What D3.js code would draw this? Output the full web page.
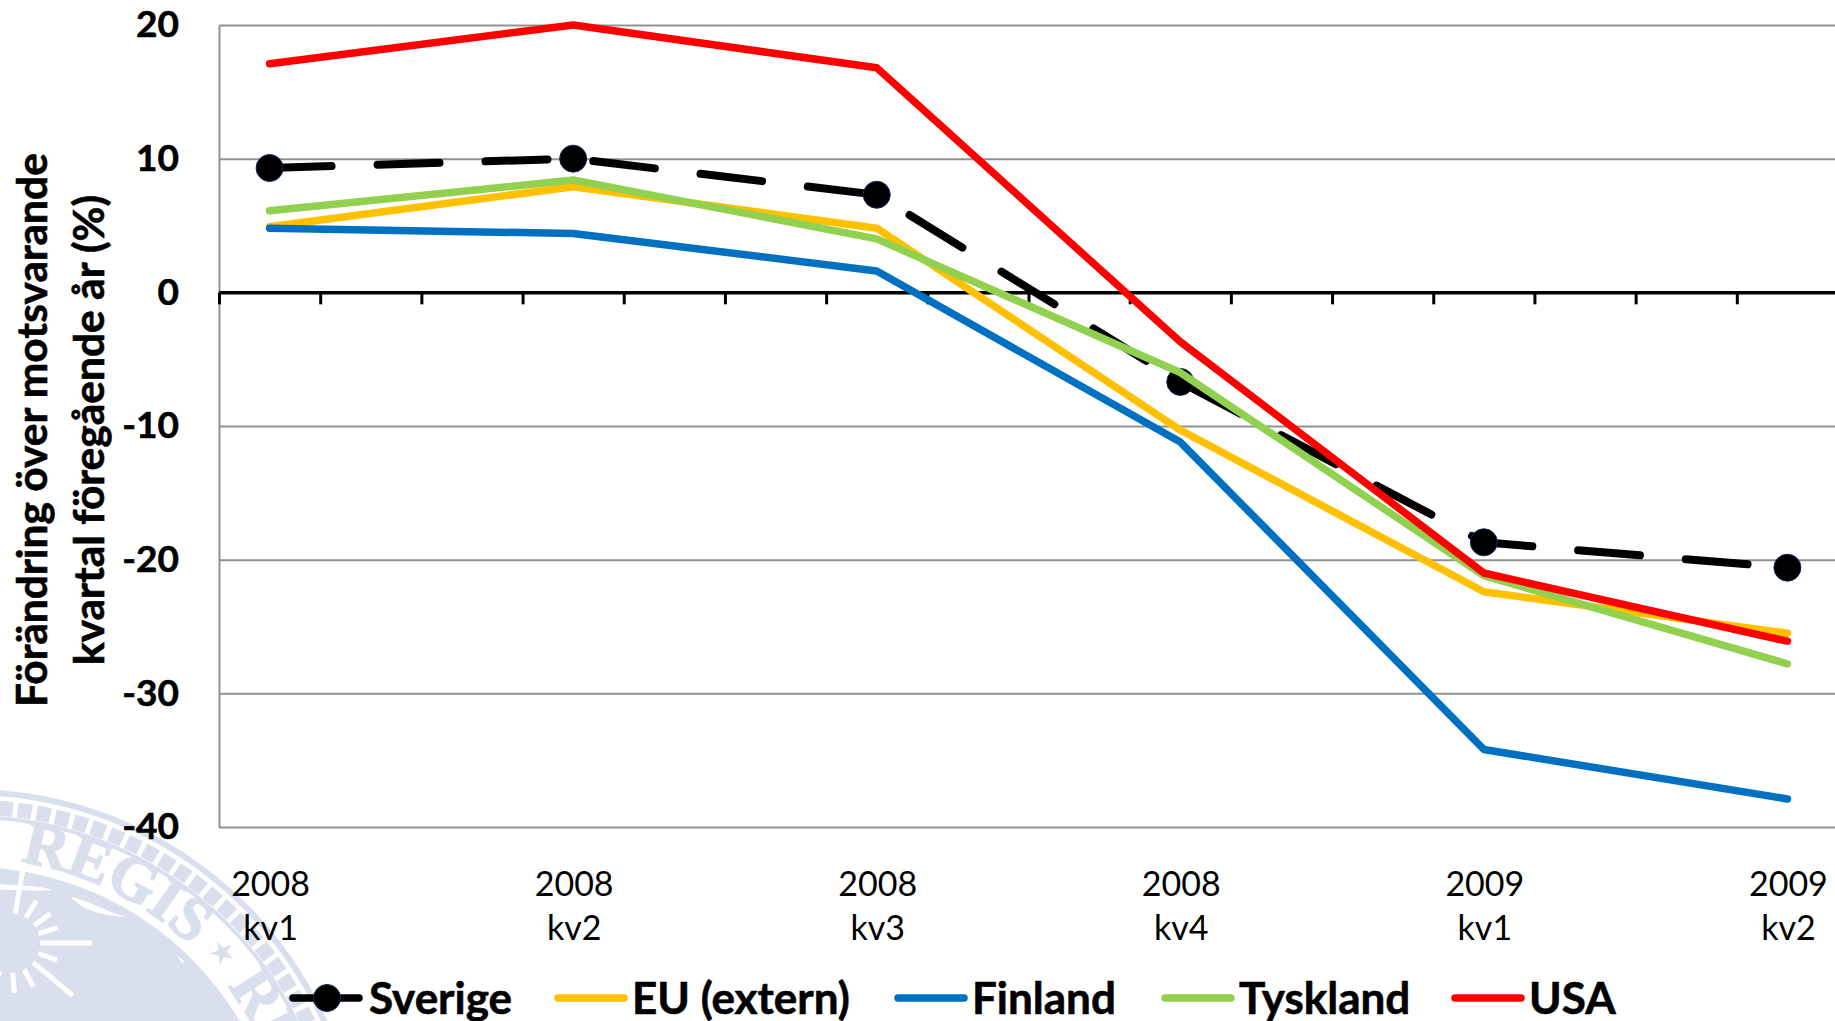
<!DOCTYPE html>
<html>
<head>
<meta charset="utf-8">
<script src="https://cdnjs.cloudflare.com/ajax/libs/d3/7.8.5/d3.min.js"></script>
<style>
    html, body { margin: 0; padding: 0; background: #fff; overflow: hidden; }
    text { font-family: Lato, "Open Sans", sans-serif; fill: #000; }
    .heavy { font-weight: bold; stroke: #000; stroke-width: 0.6px; }
</style>
</head>
<body>
<svg id="chart"></svg>
<script>
// x axis runs in months, one point every third month
const months = d3.range(17);
const quarterSlots = [0, 3, 6, 9, 12, 15];
const years = ["2008", "2008", "2008", "2008", "2009", "2009"];
const quarters = ["kv1", "kv2", "kv3", "kv4", "kv1", "kv2"];
const yTicks = [20, 10, 0, -10, -20, -30, -40];

const seriesNames = ["Sverige", "EU (extern)", "Finland", "Tyskland", "USA"];
const sverige = [9.3, 10.0, 7.3, -6.7, -18.7, -20.6];
const euExtern = [4.9, 7.9, 4.8, -10.3, -22.4, -25.5];
const finland = [4.8, 4.4, 1.6, -11.2, -34.2, -37.9];
const tyskland = [6.1, 8.4, 4.0, -6.0, -21.2, -27.8];
const usa = [17.1, 20.0, 16.8, -3.7, -21.0, -26.1];
const seriesValues = [sverige, euExtern, finland, tyskland, usa];
const seriesColors = ["#000000", "#FFC000", "#0070C0", "#92D050", "#FF0000"];

const width = 1835, height = 1021;
const margin = {top: 25, left: 219, bottom: 194};
const seal = "#DADFED";

const svg = d3.select("#chart")
    .attr("width", width)
    .attr("height", height)
    .attr("viewBox", "0 0 " + width + " " + height)
    .style("display", "block");

const xScale = d3.scaleLinear()
    .domain([0, 16])
    .range([margin.left, 1838]);

const yScale = d3.scaleLinear()
    .domain([20, -40])
    .range([margin.top, height - margin.bottom]);

/*******************************************
***************Seal watermark***************
********************************************/
const sealX = -30, sealY = 1180;
const sealG = svg.append("g").attr("transform", "translate(" + sealX + "," + sealY + ")");

sealG.append("circle").attr("r", 388).attr("fill", "none").attr("stroke", seal).attr("stroke-width", 6);
sealG.append("circle").attr("r", 373).attr("fill", "none").attr("stroke", seal)
    .attr("stroke-width", 15).attr("stroke-dasharray", "14 5");
sealG.append("circle").attr("r", 363).attr("fill", "none").attr("stroke", seal).attr("stroke-width", 4);
sealG.append("circle").attr("r", 313).attr("fill", seal);

// text ring, angles in degrees clockwise from the top
const arcPath = (r, from) => {
    const a = from * Math.PI / 180;
    return "M" + (r * Math.sin(a)) + "," + (-r * Math.cos(a)) + "A" + r + "," + r + " 0 0 1 " + r + ",0";
};
[["REGIS", 9, "sealArc1"], ["RE", 53, "sealArc2"]].forEach(d => {
    sealG.append("path").attr("id", d[2]).attr("d", arcPath(322, d[1])).attr("fill", "none");
    sealG.append("text")
        .style("font-family", "'Liberation Serif', serif")
        .style("font-weight", "bold")
        .style("font-size", "62px")
        .style("fill", seal)
        .style("stroke", seal)
        .style("stroke-width", "1.5px")
        .append("textPath")
        .attr("href", "#" + d[2])
        .text(d[0]);
});
[[48, 340], [-6, 344]].forEach(d => {
    sealG.append("text")
        .attr("transform", "rotate(" + d[0] + ") translate(0," + (-d[1]) + ")")
        .attr("text-anchor", "middle")
        .attr("dy", "0.35em")
        .style("font-size", "30px")
        .style("fill", seal)
        .text("★");
});

// sun with white rays and cloud slits inside the disc
const sunG = svg.append("g").attr("transform", "translate(10,943)");
[-80, -58, -36, -18, 0, 20, 40, 62, 85, 110, 130].forEach(a => {
    const rad = a * Math.PI / 180;
    sunG.append("line")
        .attr("x1", 30 * Math.cos(rad)).attr("y1", 30 * Math.sin(rad))
        .attr("x2", (a % 40 === 0 ? 82 : 50) * Math.cos(rad)).attr("y2", (a % 40 === 0 ? 82 : 50) * Math.sin(rad))
        .attr("stroke", "#fff").attr("stroke-width", 5);
});
["M70,897C90,900 105,912 127,917C108,916 92,913 80,905Z",
 "M0,884C20,886 40,885 52,890C35,892 15,889 0,890Z",
 "M177,955L185,962L182,963Z"].forEach(p => {
    svg.append("path").attr("d", p).attr("fill", "#fff");
});

/*******************************************
*******************Axes*********************
********************************************/
const yAxis = svg.append("g")
    .attr("transform", "translate(" + margin.left + ",0)")
    .call(d3.axisLeft(yScale).tickValues(yTicks).tickSize(14).tickPadding(26).tickSizeOuter(0).tickFormat(d => String(d)));
yAxis.select(".domain").attr("stroke", "#929292").attr("stroke-width", 2);
yAxis.selectAll(".tick line")
    .attr("x2", width - margin.left)
    .attr("stroke", "#929292")
    .attr("stroke-width", 2);
yAxis.selectAll(".tick text")
    .attr("class", "heavy")
    .style("font-size", "37px")
    .style("font-family", "Lato");

const xAxis = svg.append("g")
    .attr("transform", "translate(0," + yScale(0) + ")")
    .call(d3.axisBottom(xScale).tickValues(months).tickSize(12).tickFormat("").tickSizeOuter(0));
xAxis.select(".domain").attr("stroke", "#000").attr("stroke-width", 3.5);
xAxis.selectAll(".tick line").attr("stroke", "#000").attr("stroke-width", 3);

// category labels, two rows
const catLabels = svg.append("g").selectAll("text")
    .data(quarterSlots)
    .enter()
    .append("text")
    .attr("x", d => xScale(d + 0.5) + 1)
    .attr("text-anchor", "middle")
    .style("font-size", "34px");
catLabels.append("tspan").attr("y", 896).text((d, i) => years[i]);
catLabels.append("tspan").attr("y", 940).attr("x", d => xScale(d + 0.5) + 1).text((d, i) => quarters[i]);

// y title
const yTitle = svg.append("text")
    .attr("class", "heavy")
    .attr("transform", "translate(0,430) rotate(-90)")
    .attr("text-anchor", "middle")
    .style("font-size", "42.5px");
yTitle.append("tspan").attr("x", 0).attr("y", 47).text("Förändring över motsvarande");
yTitle.append("tspan").attr("x", 0).attr("y", 104).text("kvartal föregående år (%)");

/*******************************************
*******************Lines********************
********************************************/
const line = d3.line()
    .x((d, i) => xScale(quarterSlots[i] + 0.5))
    .y(d => yScale(d));

const linesG = svg.append("g");

linesG.selectAll("path.dashed")
    .data(seriesValues.slice(0, 1))
    .enter()
    .append("path")
    .attr("class", "dashed")
    .attr("d", line)
    .attr("fill", "none")
    .attr("stroke", seriesColors[0])
    .attr("stroke-width", 8)
    .attr("stroke-linecap", "round")
    .attr("stroke-linejoin", "round")
    .attr("stroke-dasharray", "62 46");

// Sverige markers sit under the other series
linesG.selectAll("circle")
    .data(sverige)
    .enter()
    .append("circle")
    .attr("cx", (d, i) => xScale(quarterSlots[i] + 0.5))
    .attr("cy", d => yScale(d))
    .attr("r", 13.5)
    .attr("fill", "#000")
    .attr("stroke", "#0B2A5C")
    .attr("stroke-width", 1);

linesG.selectAll("path.solid")
    .data(seriesValues.slice(1))
    .enter()
    .append("path")
    .attr("class", "solid")
    .attr("d", line)
    .attr("fill", "none")
    .attr("stroke", (d, i) => seriesColors[i + 1])
    .attr("stroke-width", 7.5)
    .attr("stroke-linecap", "round")
    .attr("stroke-linejoin", "round");

/*******************************************
*******************Legend*******************
********************************************/
const legendX = [290, 555, 895, 1162, 1452];
const legend = svg.append("g").selectAll("g")
    .data(seriesNames)
    .enter()
    .append("g")
    .attr("transform", (d, i) => "translate(" + legendX[i] + ",998)");

legend.append("line")
    .attr("x1", 3).attr("x2", 69)
    .attr("stroke", (d, i) => seriesColors[i])
    .attr("stroke-width", 7.5)
    .attr("stroke-linecap", "round");

legend.filter((d, i) => i === 0).append("circle")
    .attr("cx", 37)
    .attr("r", 13.5)
    .attr("fill", "#000")
    .attr("stroke", "#0B2A5C");

legend.append("text")
    .attr("class", "heavy")
    .attr("x", (d, i) => i === 0 ? 79 : 77)
    .attr("y", 16)
    .style("font-size", "44px")
    .text(d => d);
</script>
</body>
</html>
